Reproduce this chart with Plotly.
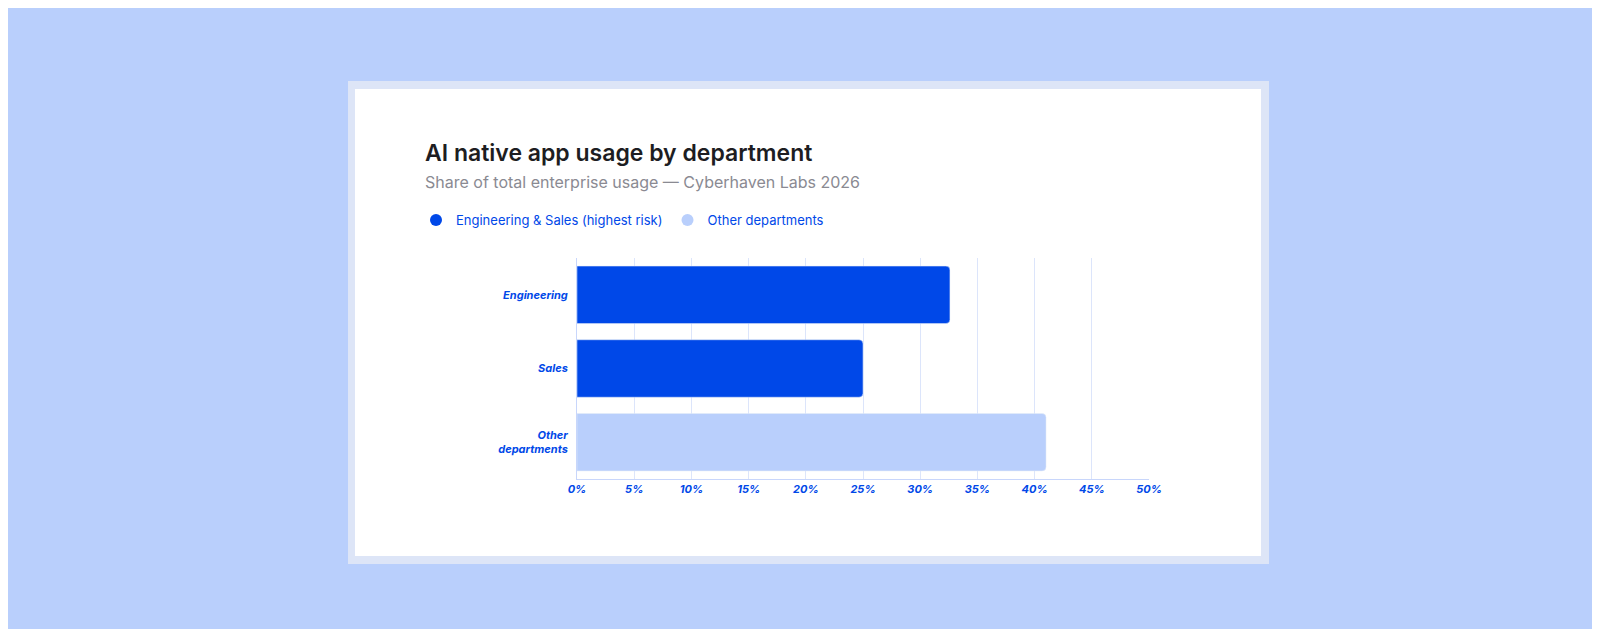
import plotly.graph_objects as go

categories = ["Engineering", "Sales", "Other<br>departments"]
values = [32.6, 25.0, 41.0]
bar_colors = ["#0048e8", "#0048e8", "#b9cffc"]
legend_names = ["Engineering & Sales (highest risk)", "Other departments"]
legend_colors = ["#0048e8", "#b9cffc"]
tick_vals = [0, 5, 10, 15, 20, 25, 30, 35, 40, 45, 50]
tick_text = [f"{v}%" for v in tick_vals]

fig = go.Figure()
fig.add_trace(go.Bar(y=categories, x=values, orientation="h", marker=dict(color=bar_colors, cornerradius=4),
                     width=0.78, showlegend=False, hoverinfo="x+y"))
for n, c in zip(legend_names, legend_colors):
    fig.add_trace(go.Scatter(x=[None], y=[None], mode="markers", name=n,
                             marker=dict(symbol="circle", size=14, color=c)))

W, H = 1600, 629
L, R, T, B = 569, 459, 250, 158
PW, PH = W - L - R, H - T - B
def px(x): return (x - L) / PW
def py(y): return (H - B - y) / PH

shapes = [
    dict(type="rect", xref="paper", yref="paper", x0=px(340), x1=px(1261), y0=py(556), y1=py(73),
         fillcolor="#dde5f7", line=dict(width=0), layer="below"),
    dict(type="rect", xref="paper", yref="paper", x0=px(347), x1=px(1253), y0=py(548), y1=py(81),
         fillcolor="white", line=dict(width=0), layer="below"),
]

fig.update_layout(
    width=W, height=H,
    paper_bgcolor="#b9cffc", plot_bgcolor="rgba(0,0,0,0)",
    margin=dict(l=L, r=R, t=T, b=B),
    shapes=shapes,
    font=dict(family="Inter", color="#0048e8"),
    showlegend=True,
    legend=dict(orientation="h", x=px(408), y=py(212), xanchor="left", yanchor="middle",
                font=dict(size=13, color="#0048e8"),
                bgcolor="rgba(0,0,0,0)", itemsizing="constant"),
    xaxis=dict(range=[0, 50], tickvals=tick_vals, ticktext=tick_text, showgrid=True,
               gridcolor="#dce5fb", gridwidth=1, zeroline=False, showline=True, linecolor="#c8d6fb",
               tickfont=dict(size=11, family="Inter", color="#0048e8", weight="bold", style="italic"),
               ticks="", fixedrange=True),
    yaxis=dict(autorange="reversed", showline=True, linecolor="#c8d6fb", showgrid=False,
               tickfont=dict(size=11, family="Inter", color="#0048e8", weight="bold", style="italic"),
               ticks="", ticklabelstandoff=6),
    annotations=[
        dict(text="AI native app usage by department", xref="paper", yref="paper", x=px(415), y=py(145),
             xanchor="left", yanchor="middle", showarrow=False,
             font=dict(size=23, color="#1d1d22", family="Inter", weight=600)),
        dict(text="Share of total enterprise usage — Cyberhaven Labs 2026", xref="paper", yref="paper",
             x=px(415), y=py(174), xanchor="left", yanchor="middle", showarrow=False,
             font=dict(size=16, color="#8a8a92", family="Inter")),
    ],
)
fig.write_html("out.html")
